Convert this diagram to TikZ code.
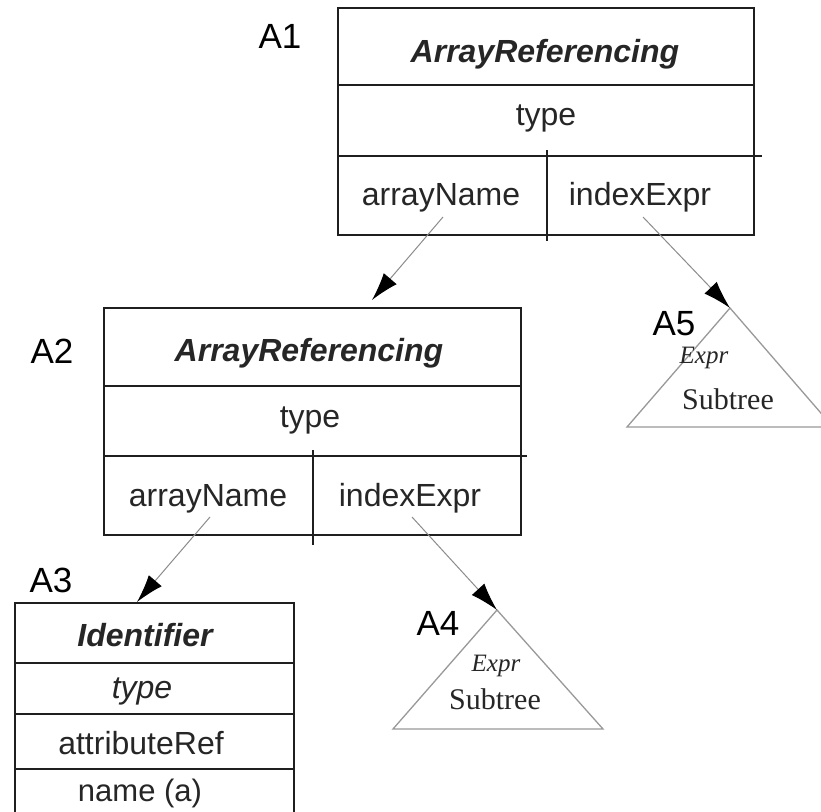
\documentclass[tikz,border=0pt]{standalone}
\usepackage{fontspec}
\setmainfont{Liberation Sans}
\newfontfamily\serifrm{Liberation Serif}
\usetikzlibrary{arrows.meta}
\begin{document}
\begin{tikzpicture}[x=1pt,y=-1pt,
  boxline/.style={line width=1.6pt, draw=black!88},
  celltext/.style={font=\fontsize{32}{32}\selectfont, text=black!85, inner sep=0pt, anchor=base},
  titletext/.style={celltext, font=\fontsize{32}{32}\selectfont\bfseries\itshape},
  lbl/.style={font=\fontsize{35}{35}\selectfont, inner sep=0pt, anchor=base},
  tri/.style={draw=black!40, line width=1.3pt},
  ptr/.style={draw=black!45, line width=1pt, -{Latex[length=28pt,width=17pt,black]}},
  subtext/.style={font=\serifrm\fontsize{30}{30}\selectfont, text=black!85, inner sep=0pt, anchor=base},
  exprtext/.style={font=\serifrm\fontsize{25}{25}\selectfont\itshape, text=black!85, inner sep=0pt, anchor=base}
]
\path[use as bounding box, clip] (0,0) rectangle (821,811);
\fill[white] (0,0) rectangle (821,811);

% A1
\draw[boxline] (338,8) rectangle (754,235);
\draw[boxline] (338,85) -- (754,85);
\draw[boxline] (338,156) -- (762,156);
\draw[boxline] (547,150) -- (547,241);
\node[titletext] (a1title) at (545,62) {ArrayReferencing};
\node[celltext] (a1type) at (546,125) {type};
\node[celltext] (a1name) at (441,205) {arrayName};
\node[celltext] (a1index) at (640,205) {indexExpr};

% A2
\draw[boxline] (104,308) rectangle (521,535);
\draw[boxline] (104,386) -- (521,386);
\draw[boxline] (104,456) -- (527,456);
\draw[boxline] (313,450) -- (313,545);
\node[titletext] (a2title) at (309,361) {ArrayReferencing};
\node[celltext] (a2type) at (310,427) {type};
\node[celltext] (a2name) at (208,506) {arrayName};
\node[celltext] (a2index) at (410,506) {indexExpr};

% A3
\draw[boxline] (15,603) rectangle (294,840);
\draw[boxline] (15,663) -- (294,663);
\draw[boxline] (15,714) -- (294,714);
\draw[boxline] (15,769) -- (294,769);
\node[titletext] (a3title) at (145,646) {Identifier};
\node[celltext, font=\fontsize{32}{32}\selectfont\itshape] (a3type) at (142,698) {type};
\node[celltext] (a3attr) at (141,754) {attributeRef};
\node[celltext, font=\fontsize{31}{31}\selectfont] (a3name) at (140,801) {name (a)};

% A4 triangle
\coordinate (t4) at (497,610);
\coordinate (t4l) at (393,729);
\coordinate (t4r) at (603,729);
\draw[tri] (t4) -- (t4l) -- (t4r) -- cycle;
\node[exprtext] (a4expr) at (496,671) {Expr};
\node[subtext] (a4sub) at (495,709) {Subtree};

% A5 triangle
\coordinate (t5) at (730,308);
\coordinate (t5l) at (627,427);
\coordinate (t5r) at (833,427);
\draw[tri] (t5) -- (t5l) -- (t5r) -- cycle;
\node[exprtext] (a5expr) at (704,363) {Expr};
\node[subtext] (a5sub) at (728,409) {Subtree};

% labels
\node[lbl] (l1) at (280,48) {A1};
\node[lbl] (l2) at (52,363) {A2};
\node[lbl] (l3) at (51,592) {A3};
\node[lbl] (l4) at (438,635) {A4};
\node[lbl] (l5) at (674,335) {A5};

% pointers
\coordinate (p1s) at (443,217);
\coordinate (p1e) at (372,300);
\coordinate (p2s) at (643,217);
\coordinate (p3s) at (210,517);
\coordinate (p3e) at (137,602);
\coordinate (p4s) at (412,517);
\draw[ptr] (p1s) -- (p1e);
\draw[ptr] (p2s) -- (t5);
\draw[ptr] (p3s) -- (p3e);
\draw[ptr] (p4s) -- (t4);
\end{tikzpicture}
\end{document}
